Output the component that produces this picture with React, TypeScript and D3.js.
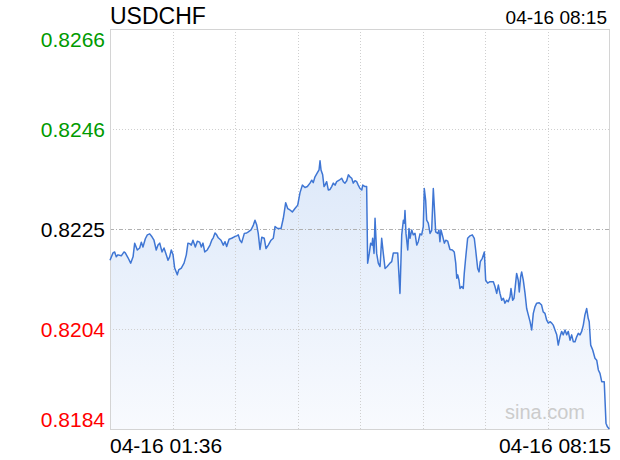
import React from 'react';
import * as d3 from 'd3';

const title = 'USDCHF';
const lastTime = '04-16 08:15';
const xLabels = ['04-16 01:36', '04-16 08:15'];
const yTickLabels = ['0.8266', '0.8246', '0.8225', '0.8204', '0.8184'];
const yMax = 0.8266;
const yMin = 0.8184;
const sessionMinutes = 399;
const watermark = 'sina.com';

// minutes since 01:36
const minutes = [
  0, 2.4, 3.7, 5.0, 6.4, 9.0, 11.2, 12.2, 14.4, 16.5,
  18.4, 19.7, 21.8, 23.7, 25.0, 26.3, 28.2, 29.8, 31.7, 33.5,
  35.1, 36.9, 38.3, 39.7, 41.5, 43.1, 44.9, 46.3, 47.6, 48.9,
  50.3, 51.6, 53.7, 54.8, 56.9, 59.1, 60.9, 62.2, 63.6, 64.9,
  66.2, 68.1, 69.7, 71.6, 72.9, 74.2, 75.6, 77.6, 79.8, 81.2,
  82.4, 83.8, 85.1, 86.4, 88.6, 90.4, 91.8, 93.1, 95.0, 97.1,
  99.2, 101.1, 102.4, 103.7, 105.1, 107.2, 109.1, 110.4, 112.5, 114.4,
  115.7, 117.1, 118.3, 119.7, 121.1, 123.1, 124.5, 126.3, 128.5, 130.3,
  131.7, 133.8, 136.5, 138.3, 140.2, 141.8, 143.6, 145.5, 147.6, 149.8,
  151.6, 153.5, 155.6, 157.5, 159.6, 161.0, 162.2, 163.6, 165.4, 166.8,
  167.6, 168.4, 169.7, 170.8, 171.6, 172.9, 174.2, 175.6, 176.9, 178.2,
  179.6, 180.9, 182.9, 184.9, 186.2, 187.5, 188.9, 190.2, 191.5, 192.9,
  194.1, 195.5, 196.9, 198.1, 199.5, 200.9, 201.7, 203.5, 204.8, 205.6,
  206.9, 208.0, 209.1, 209.6, 210.7, 211.5, 212.8, 214.1, 215.5, 216.8,
  218.1, 219.5, 221.2, 223.4, 224.8, 226.1, 229.6, 231.4, 232.8, 234.1,
  234.9, 235.4, 236.2, 237.6, 238.6, 239.4, 240.8, 242.0, 243.4, 244.8,
  246.0, 247.4, 248.7, 250.0, 250.8, 251.9, 252.7, 254.0, 255.4, 256.7,
  258.0, 258.8, 259.9, 261.5, 262.5, 263.3, 264.1, 265.2, 266.8, 267.9,
  269.5, 271.3, 273.2, 274.7, 275.9, 276.7, 277.5, 278.5, 279.3, 280.6,
  281.9, 282.7, 283.8, 285.4, 287.3, 289.1, 290.7, 291.8, 293.4, 294.5,
  295.5, 297.1, 298.7, 299.8, 301.4, 303.2, 305.9, 307.2, 308.6, 309.9,
  311.2, 312.6, 313.9, 315.2, 316.6, 317.8, 319.2, 320.0, 321.3, 322.4,
  323.4, 324.5, 325.8, 326.6, 327.7, 328.5, 329.8, 331.2, 332.5, 333.8,
  335.2, 336.5, 337.8, 339.2, 340.5, 342.5, 344.4, 345.7, 347.1, 348.5,
  349.8, 351.1, 352.5, 353.7, 355.1, 356.5, 357.7, 359.1, 360.4, 361.7,
  363.1, 364.4, 365.7, 367.1, 368.4, 369.7, 371.1, 372.4, 373.7, 375.1,
  376.4, 377.7, 379.0, 380.4, 381.6, 382.4, 383.6, 385.2, 387.0, 388.4,
  389.7, 391.0, 392.4, 394.4, 395.8, 396.8, 398.4,
];

const prices = [
  0.82186, 0.82201, 0.82203, 0.82193, 0.82197, 0.82195, 0.82203, 0.82201, 0.82191, 0.82180,
  0.82193, 0.82221, 0.82207, 0.82211, 0.82223, 0.82213, 0.82230, 0.82238, 0.82240, 0.82234,
  0.82227, 0.82207, 0.82217, 0.82221, 0.82203, 0.82211, 0.82197, 0.82186, 0.82193, 0.82207,
  0.82197, 0.82170, 0.82156, 0.82166, 0.82170, 0.82180, 0.82197, 0.82221, 0.82220, 0.82217,
  0.82227, 0.82213, 0.82225, 0.82223, 0.82213, 0.82221, 0.82203, 0.82207, 0.82217, 0.82227,
  0.82232, 0.82242, 0.82238, 0.82232, 0.82227, 0.82217, 0.82224, 0.82214, 0.82229, 0.82231,
  0.82234, 0.82236, 0.82238, 0.82227, 0.82222, 0.82241, 0.82242, 0.82244, 0.82248, 0.82258,
  0.82268, 0.82258, 0.82241, 0.82208, 0.82233, 0.82231, 0.82210, 0.82217, 0.82227, 0.82231,
  0.82255, 0.82251, 0.82251, 0.82272, 0.82304, 0.82292, 0.82289, 0.82285, 0.82292, 0.82299,
  0.82324, 0.82340, 0.82335, 0.82337, 0.82344, 0.82350, 0.82345, 0.82357, 0.82365, 0.82371,
  0.82390, 0.82371, 0.82361, 0.82337, 0.82340, 0.82347, 0.82330, 0.82331, 0.82337, 0.82344,
  0.82340, 0.82347, 0.82350, 0.82354, 0.82347, 0.82344, 0.82349, 0.82361, 0.82357, 0.82354,
  0.82344, 0.82349, 0.82347, 0.82340, 0.82333, 0.82330, 0.82340, 0.82337, 0.82337, 0.82180,
  0.82200, 0.82221, 0.82217, 0.82231, 0.82200, 0.82272, 0.82200, 0.82180, 0.82173, 0.82231,
  0.82200, 0.82169, 0.82173, 0.82180, 0.82183, 0.82201, 0.82201, 0.82118, 0.82238, 0.82268,
  0.82262, 0.82288, 0.82241, 0.82207, 0.82251, 0.82231, 0.82248, 0.82238, 0.82241, 0.82217,
  0.82224, 0.82240, 0.82238, 0.82255, 0.82333, 0.82309, 0.82268, 0.82262, 0.82241, 0.82247,
  0.82333, 0.82296, 0.82244, 0.82241, 0.82248, 0.82224, 0.82248, 0.82238, 0.82221, 0.82227,
  0.82225, 0.82208, 0.82207, 0.82203, 0.82180, 0.82149, 0.82156, 0.82145, 0.82128, 0.82132,
  0.82128, 0.82159, 0.82190, 0.82231, 0.82236, 0.82238, 0.82231, 0.82207, 0.82169, 0.82162,
  0.82183, 0.82190, 0.82203, 0.82145, 0.82139, 0.82142, 0.82142, 0.82132, 0.82118, 0.82135,
  0.82118, 0.82104, 0.82108, 0.82098, 0.82104, 0.82101, 0.82111, 0.82128, 0.82104, 0.82108,
  0.82132, 0.82159, 0.82145, 0.82121, 0.82152, 0.82162, 0.82145, 0.82118, 0.82087, 0.82074,
  0.82060, 0.82043, 0.82077, 0.82091, 0.82098, 0.82099, 0.82094, 0.82080, 0.82077, 0.82063,
  0.82057, 0.82060, 0.82057, 0.82053, 0.82043, 0.82033, 0.82012, 0.82029, 0.82040, 0.82033,
  0.82043, 0.82033, 0.82040, 0.82022, 0.82033, 0.82019, 0.82019, 0.82029, 0.82036, 0.82033,
  0.82040, 0.82053, 0.82074, 0.82087, 0.82067, 0.82060, 0.82012, 0.82002, 0.81985, 0.81981,
  0.81961, 0.81954, 0.81937, 0.81937, 0.81852, 0.81845, 0.81840,
];

const FONT = '"Liberation Sans", Arial, Helvetica, sans-serif';

export default function App() {
  const W = 620;
  const H = 460;
  const L = 110;
  const R = 610;
  const T = 29;
  const B = 429;

  const x = d3.scaleLinear().domain([0, sessionMinutes]).range([L, R]);
  const y = d3.scaleLinear().domain([yMin, yMax]).range([B, T]);

  const data = minutes.map((m, i) => ({ m, p: Math.max(prices[i], yMin) }));

  const line = d3
    .line<{ m: number; p: number }>()
    .x((d) => x(d.m))
    .y((d) => y(d.p));
  const area = d3
    .area<{ m: number; p: number }>()
    .x((d) => x(d.m))
    .y0(B)
    .y1((d) => y(d.p));

  const yTickVals = d3.range(5).map((i) => yMax - (i * (yMax - yMin)) / 4);
  const xTickVals = d3.range(9).map((i) => (i * sessionMinutes) / 8);

  const labelColor = (i: number) => (i < 2 ? '#009a00' : i === 2 ? '#000000' : '#ff0000');
  const labelBaseline = (i: number, ty: number) =>
    i === 0 ? ty + 18 : i === 4 ? ty - 2 : ty + 7.5;

  return (
    <svg
      width={W}
      height={H}
      style={{ position: 'absolute', left: 0, top: 0, background: '#fff' }}
      fontFamily={FONT}
    >
      <defs>
        <linearGradient id="areaGrad" gradientUnits="userSpaceOnUse" x1="0" y1="150" x2="0" y2={B}>
          <stop offset="0" stopColor="#dce8f9" />
          <stop offset="1" stopColor="#f8fafe" />
        </linearGradient>
      </defs>
      <rect x={0} y={0} width={W} height={H} fill="#fff" />

      <path d={area(data) || ''} fill="url(#areaGrad)" />

      {/* vertical grid */}
      {xTickVals.slice(1, -1).map((v, i) => (
        <line
          key={'vx' + i}
          x1={Math.round(x(v)) + 0.5}
          x2={Math.round(x(v)) + 0.5}
          y1={T}
          y2={B}
          stroke="#cfcfcf"
          strokeWidth={1}
          strokeDasharray="1,2"
        />
      ))}
      {/* horizontal grid */}
      {yTickVals.map((v, i) =>
        i === 0 || i === 4 ? null : (
          <line
            key={'hy' + i}
            x1={L}
            x2={R}
            y1={Math.round(y(v)) + 0.5}
            y2={Math.round(y(v)) + 0.5}
            stroke={i === 2 ? '#b0b0b0' : '#cfcfcf'}
            strokeWidth={1}
            strokeDasharray={i === 2 ? '4,2,1,2' : '1,2'}
          />
        )
      )}
      {/* frame */}
      <rect
        x={L + 0.5}
        y={T + 0.5}
        width={R - L - 1}
        height={B - T}
        fill="none"
        stroke="#d4d4d4"
        strokeWidth={1}
      />

      <text x={x(sessionMinutes) - 25} y={419} fontSize={20} fill="#cccccc" textAnchor="end">
        {watermark}
      </text>

      <path d={line(data) || ''} fill="none" stroke="#3f76d4" strokeWidth={1.5} strokeLinejoin="round" />

      {/* y labels */}
      {yTickVals.map((v, i) => (
        <text
          key={'yl' + i}
          x={105}
          y={labelBaseline(i, y(v))}
          textAnchor="end"
          fontSize={21}
          fill={labelColor(i)}
        >
          {yTickLabels[i]}
        </text>
      ))}

      {/* title */}
      <text x={L} y={24} fontSize={23} fill="#000">
        {title}
      </text>
      <text x={607} y={24} fontSize={19} fill="#000" textAnchor="end">
        {lastTime}
      </text>

      {/* x labels */}
      <text x={x(0)} y={453} fontSize={21} fill="#000">
        {xLabels[0]}
      </text>
      <text x={x(sessionMinutes) + 1} y={453} fontSize={21} fill="#000" textAnchor="end">
        {xLabels[1]}
      </text>
    </svg>
  );
}
